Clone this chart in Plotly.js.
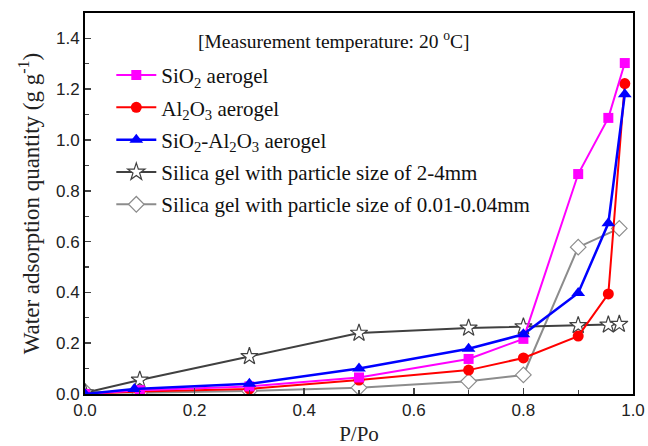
<!DOCTYPE html>
<html>
<head>
<meta charset="utf-8">
<script src="https://cdn.plot.ly/plotly-3.0.1.min.js"></script>
<style>html,body{margin:0;padding:0;background:#fff;}#chart{width:648px;height:446px;}</style>
</head>
<body>
<div id="chart"></div>
<script>
// Relative pressure values
const xSiO2 = [0.0, 0.1, 0.3, 0.5, 0.7, 0.8, 0.9, 0.955, 0.985];
const ySiO2 = [0.0, 0.015, 0.03, 0.065, 0.138, 0.217, 0.866, 1.087, 1.303];

const xAl2O3 = [0.0, 0.1, 0.3, 0.5, 0.7, 0.8, 0.9, 0.955, 0.985];
const yAl2O3 = [0.0, 0.01, 0.02, 0.055, 0.094, 0.142, 0.228, 0.394, 1.222];

const xMix = [0.0, 0.09, 0.3, 0.5, 0.7, 0.8, 0.9, 0.955, 0.985];
const yMix = [0.0, 0.02, 0.04, 0.1, 0.178, 0.235, 0.398, 0.672, 1.18];

const xGel24 = [0.0, 0.1, 0.3, 0.5, 0.7, 0.8, 0.9, 0.955, 0.975];
const yGel24 = [0.005, 0.055, 0.148, 0.24, 0.26, 0.265, 0.27, 0.272, 0.275];

const xGelFine = [0.0, 0.1, 0.3, 0.5, 0.7, 0.8, 0.9, 0.975];
const yGelFine = [0.01, 0.005, 0.012, 0.025, 0.05, 0.075, 0.578, 0.652];

const names = [
  'SiO<sub>2</sub> aerogel',
  'Al<sub>2</sub>O<sub>3</sub> aerogel',
  'SiO<sub>2</sub>-Al<sub>2</sub>O<sub>3</sub> aerogel',
  'Silica gel with particle size of 2-4mm',
  'Silica gel with particle size of 0.01-0.04mm'
];

const serif = '"Liberation Serif", "Times New Roman", serif';
const sans = '"Liberation Sans", Arial, sans-serif';

const traces = [
  {x: xGelFine, y: yGelFine, name: names[4], legendrank: 5, legendgroup: 'e', mode: 'lines+markers',
   line: {color: '#8c8c8c', width: 2}, marker: {symbol: 'diamond', size: 12, color: '#ffffff', line: {color: '#8c8c8c', width: 1.2}}},
  {x: xGel24, y: yGel24, name: names[3], legendrank: 4, legendgroup: 'd', mode: 'lines+markers',
   line: {color: '#404040', width: 2}, marker: {symbol: 'star', size: 13, color: '#ffffff', line: {color: '#404040', width: 1.2}}},
  {x: xAl2O3, y: yAl2O3, name: names[1], legendrank: 2, legendgroup: 'b', mode: 'lines+markers',
   line: {color: '#ff0000', width: 2}, marker: {symbol: 'circle', size: 11, color: '#ff0000'}},
  {x: xSiO2, y: ySiO2, name: names[0], legendrank: 1, legendgroup: 'a', mode: 'lines+markers',
   line: {color: '#ff00ff', width: 2}, marker: {symbol: 'square', size: 10, color: '#ff00ff'}},
  {x: xMix, y: yMix, name: names[2], legendrank: 3, legendgroup: 'c', mode: 'lines+markers',
   line: {color: '#0000ff', width: 2.5}, marker: {symbol: 'triangle-up', size: 12, color: '#0000ff'}}
];

const layout = {
  width: 648, height: 446,
  margin: {l: 85, r: 15, t: 13, b: 52},
  paper_bgcolor: '#ffffff', plot_bgcolor: '#ffffff',
  showlegend: true,
  legend: {x: 0.048, y: 0.89, xanchor: 'left', yanchor: 'top', bgcolor: 'rgba(0,0,0,0)',
           font: {family: serif, size: 21, color: '#111'}, tracegroupgap: 2, itemwidth: 40},
  xaxis: {range: [0, 1.0], dtick: 0.2, tickformat: '.1f', ticks: 'inside', ticklen: 6, tickwidth: 1.5,
          minor: {dtick: 0.1, ticks: 'inside', ticklen: 4, tickwidth: 1.2},
          showline: true, linecolor: '#000', linewidth: 2, mirror: true, showgrid: false, zeroline: false,
          tickfont: {family: sans, size: 17, color: '#222'},
          title: {text: 'P/Po', font: {family: serif, size: 21, color: '#222'}, standoff: 9}},
  yaxis: {range: [0, 1.5], dtick: 0.2, tickformat: '.1f', ticks: 'inside', ticklen: 6, tickwidth: 1.5,
          minor: {dtick: 0.1, ticks: 'inside', ticklen: 4, tickwidth: 1.2},
          showline: true, linecolor: '#000', linewidth: 2, mirror: true, showgrid: false, zeroline: false,
          tickfont: {family: sans, size: 17, color: '#222'},
          title: {text: 'Water adsorption quantity (g g<sup>-1</sup>)', font: {family: serif, size: 23, color: '#222'}, standoff: 10}},
  annotations: [{xref: 'paper', yref: 'paper', x: 0.455, y: 0.929, xanchor: 'center', yanchor: 'middle', showarrow: false,
                 text: '[Measurement temperature: 20 <sup>o</sup>C]', font: {family: serif, size: 19.5, color: '#111'}}]
};

Plotly.newPlot('chart', traces, layout, {displayModeBar: false, staticPlot: true});
</script>
</body>
</html>
